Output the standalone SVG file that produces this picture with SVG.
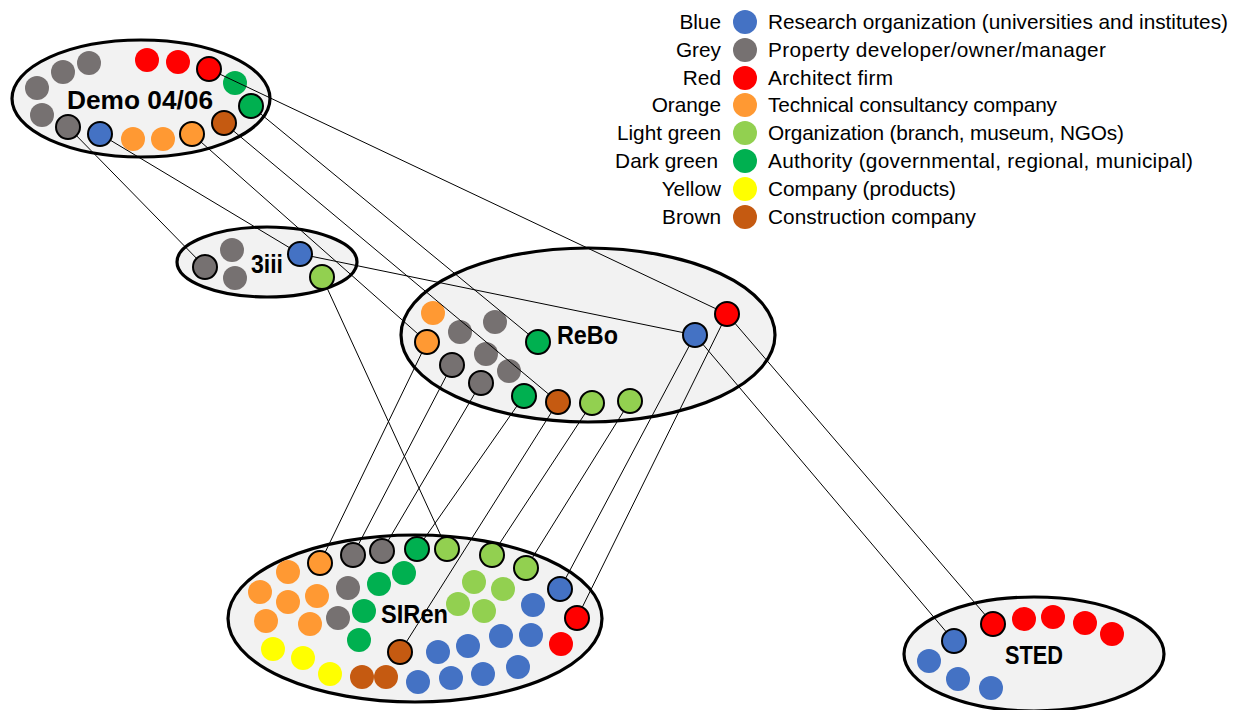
<svg xmlns="http://www.w3.org/2000/svg" width="1241" height="710" viewBox="0 0 1241 710">
<style>
.cl{fill:#F2F2F2;stroke:#000;stroke-width:3.2}
.lbl{font-family:"Liberation Sans",Arial,sans-serif;font-weight:bold;font-size:25px;fill:#000;text-anchor:middle}
.leg{font-family:"Liberation Sans",Arial,sans-serif;font-size:20.8px;fill:#000}
.legl{text-anchor:end}
.b{fill:#4472C4}.g{fill:#767171}.r{fill:#FF0000}.o{fill:#FF9933}
.lg{fill:#92D050}.dg{fill:#00B050}.y{fill:#FFFF00}.br{fill:#C55A11}
.k{stroke:#000;stroke-width:2}
#connectors line{stroke:#000;stroke-width:1}
</style>
<defs><circle id="c" r="12"/></defs>

<g id="demo">
<ellipse class="cl" cx="141" cy="98.5" rx="129" ry="58.5"/>
<g>
<use href="#c" class="g" x="89" y="63"/><use href="#c" class="g" x="63" y="72"/>
<use href="#c" class="g" x="37" y="88"/><use href="#c" class="g" x="42" y="115"/>
<use href="#c" class="g k" x="68" y="127"/><use href="#c" class="b k" x="100" y="134"/>
<use href="#c" class="o" x="133" y="139"/><use href="#c" class="o" x="163" y="139"/>
<use href="#c" class="o k" x="192" y="134"/><use href="#c" class="br k" x="224" y="123"/>
<use href="#c" class="dg k" x="251" y="106"/><use href="#c" class="dg" x="235" y="83"/>
<use href="#c" class="r k" x="209" y="69"/><use href="#c" class="r" x="147" y="60"/>
<use href="#c" class="r" x="178" y="62"/>
</g>
<text class="lbl" x="140" y="109" textLength="146" lengthAdjust="spacingAndGlyphs">Demo 04/06</text>
</g>

<g id="n3iii">
<ellipse class="cl" cx="267" cy="262" rx="90" ry="35"/>
<use href="#c" class="g k" x="205" y="267"/><use href="#c" class="g" x="232" y="250"/>
<use href="#c" class="g" x="235" y="278"/><use href="#c" class="b k" x="300" y="254"/>
<use href="#c" class="lg k" x="322" y="277"/>
<text class="lbl" x="267" y="273" textLength="32" lengthAdjust="spacingAndGlyphs">3iii</text>
</g>

<g id="rebo">
<ellipse class="cl" cx="588" cy="335" rx="187" ry="87"/>
<use href="#c" class="o" x="433" y="313"/><use href="#c" class="o k" x="427" y="342"/>
<use href="#c" class="g" x="460" y="332"/><use href="#c" class="g" x="495" y="322"/>
<use href="#c" class="g" x="486" y="354"/><use href="#c" class="g" x="509" y="371"/>
<use href="#c" class="g k" x="452" y="365"/><use href="#c" class="g k" x="481" y="383"/>
<use href="#c" class="dg k" x="538" y="342"/><use href="#c" class="dg k" x="524" y="396"/>
<use href="#c" class="br k" x="558" y="402"/><use href="#c" class="lg k" x="592" y="403"/>
<use href="#c" class="lg k" x="630" y="401"/><use href="#c" class="b k" x="695" y="335"/>
<use href="#c" class="r k" x="727" y="314"/>
<text class="lbl" x="587.5" y="344" textLength="61" lengthAdjust="spacingAndGlyphs">ReBo</text>
</g>

<g id="siren">
<ellipse class="cl" cx="415" cy="618.5" rx="187" ry="83.5"/>
<use href="#c" class="o k" x="320" y="563"/><use href="#c" class="g k" x="353" y="555"/>
<use href="#c" class="g k" x="382" y="551"/><use href="#c" class="dg k" x="417" y="549"/>
<use href="#c" class="lg k" x="447" y="549"/><use href="#c" class="lg k" x="492" y="555"/>
<use href="#c" class="lg k" x="526" y="568"/><use href="#c" class="b k" x="560" y="589"/>
<use href="#c" class="r k" x="577" y="618"/><use href="#c" class="br k" x="400" y="652"/>
<use href="#c" class="o" x="288" y="572"/><use href="#c" class="o" x="260" y="592"/>
<use href="#c" class="o" x="288" y="602"/><use href="#c" class="o" x="317" y="596"/>
<use href="#c" class="o" x="266" y="621"/><use href="#c" class="o" x="310" y="624"/>
<use href="#c" class="g" x="348" y="588"/><use href="#c" class="g" x="338" y="618"/>
<use href="#c" class="dg" x="404" y="573"/><use href="#c" class="dg" x="379" y="584"/>
<use href="#c" class="dg" x="364" y="611"/><use href="#c" class="dg" x="359" y="640"/>
<use href="#c" class="lg" x="474" y="582"/><use href="#c" class="lg" x="503" y="589"/>
<use href="#c" class="lg" x="458" y="604"/><use href="#c" class="lg" x="484" y="611"/>
<use href="#c" class="b" x="533" y="605"/><use href="#c" class="b" x="531" y="635"/>
<use href="#c" class="b" x="501" y="636"/><use href="#c" class="b" x="468" y="646"/>
<use href="#c" class="b" x="438" y="652"/><use href="#c" class="b" x="518" y="667"/>
<use href="#c" class="b" x="483" y="674"/><use href="#c" class="b" x="451" y="678"/>
<use href="#c" class="b" x="418" y="682"/><use href="#c" class="r" x="561" y="644"/>
<use href="#c" class="y" x="273" y="649"/><use href="#c" class="y" x="303" y="658"/>
<use href="#c" class="y" x="330" y="674"/>
<use href="#c" class="br" x="362" y="677"/><use href="#c" class="br" x="386" y="677"/>
<text class="lbl" x="414.5" y="623" textLength="67" lengthAdjust="spacingAndGlyphs">SIRen</text>
</g>

<g id="sted">
<ellipse class="cl" cx="1034" cy="654" rx="130" ry="57"/>
<use href="#c" class="b k" x="954" y="641"/><use href="#c" class="r k" x="993" y="624"/>
<use href="#c" class="r" x="1024" y="619"/><use href="#c" class="r" x="1053" y="617"/>
<use href="#c" class="r" x="1085" y="623"/><use href="#c" class="r" x="1112" y="634"/>
<use href="#c" class="b" x="929" y="661"/><use href="#c" class="b" x="958" y="679"/>
<use href="#c" class="b" x="991" y="688"/>
<text class="lbl" x="1034" y="664" textLength="58" lengthAdjust="spacingAndGlyphs">STED</text>
</g>

<g id="connectors">
<line x1="219.8" y1="74.1" x2="716.2" y2="308.9"/>
<line x1="260.3" y1="113.6" x2="528.7" y2="334.4"/>
<line x1="233.2" y1="130.7" x2="548.8" y2="394.3"/>
<line x1="201.0" y1="142.0" x2="418.0" y2="334.0"/>
<line x1="76.4" y1="135.6" x2="196.6" y2="258.4"/>
<line x1="110.3" y1="140.2" x2="289.7" y2="247.8"/>
<line x1="311.8" y1="256.4" x2="683.2" y2="332.6"/>
<line x1="327.0" y1="287.9" x2="442.0" y2="538.1"/>
<line x1="421.8" y1="352.8" x2="325.2" y2="552.2"/>
<line x1="446.5" y1="375.6" x2="358.5" y2="544.4"/>
<line x1="474.9" y1="393.3" x2="388.1" y2="540.7"/>
<line x1="517.1" y1="405.8" x2="423.9" y2="539.2"/>
<line x1="551.6" y1="412.1" x2="406.4" y2="641.9"/>
<line x1="585.4" y1="413.0" x2="498.6" y2="545.0"/>
<line x1="623.7" y1="411.2" x2="532.3" y2="557.8"/>
<line x1="689.4" y1="345.6" x2="565.6" y2="578.4"/>
<line x1="721.7" y1="324.8" x2="582.3" y2="607.2"/>
<line x1="702.8" y1="344.2" x2="946.2" y2="631.8"/>
<line x1="734.8" y1="323.1" x2="985.2" y2="614.9"/>
</g>

<g id="legend">
<use href="#c" class="b" x="745" y="22"/><use href="#c" class="g" x="745" y="50"/>
<use href="#c" class="r" x="745" y="78"/><use href="#c" class="o" x="745" y="105"/>
<use href="#c" class="lg" x="745" y="133"/><use href="#c" class="dg" x="745" y="161"/>
<use href="#c" class="y" x="745" y="189"/><use href="#c" class="br" x="745" y="217"/>
<text class="leg legl" x="721" y="29">Blue</text>
<text class="leg legl" x="721" y="57">Grey</text>
<text class="leg legl" x="721" y="85">Red</text>
<text class="leg legl" x="721" y="112">Orange</text>
<text class="leg legl" x="721" y="140">Light green</text>
<text class="leg legl" x="718" y="168">Dark green</text>
<text class="leg legl" x="721" y="196">Yellow</text>
<text class="leg legl" x="721" y="224">Brown</text>
<text class="leg" x="768" y="29" textLength="460">Research organization (universities and institutes)</text>
<text class="leg" x="768" y="57" textLength="338">Property developer/owner/manager</text>
<text class="leg" x="768" y="85" textLength="125">Architect firm</text>
<text class="leg" x="768" y="112" textLength="289">Technical consultancy company</text>
<text class="leg" x="768" y="140" textLength="356">Organization (branch, museum, NGOs)</text>
<text class="leg" x="768" y="168" textLength="425">Authority (governmental, regional, municipal)</text>
<text class="leg" x="768" y="196" textLength="188">Company (products)</text>
<text class="leg" x="768" y="224" textLength="208">Construction company</text>
</g>
</svg>
